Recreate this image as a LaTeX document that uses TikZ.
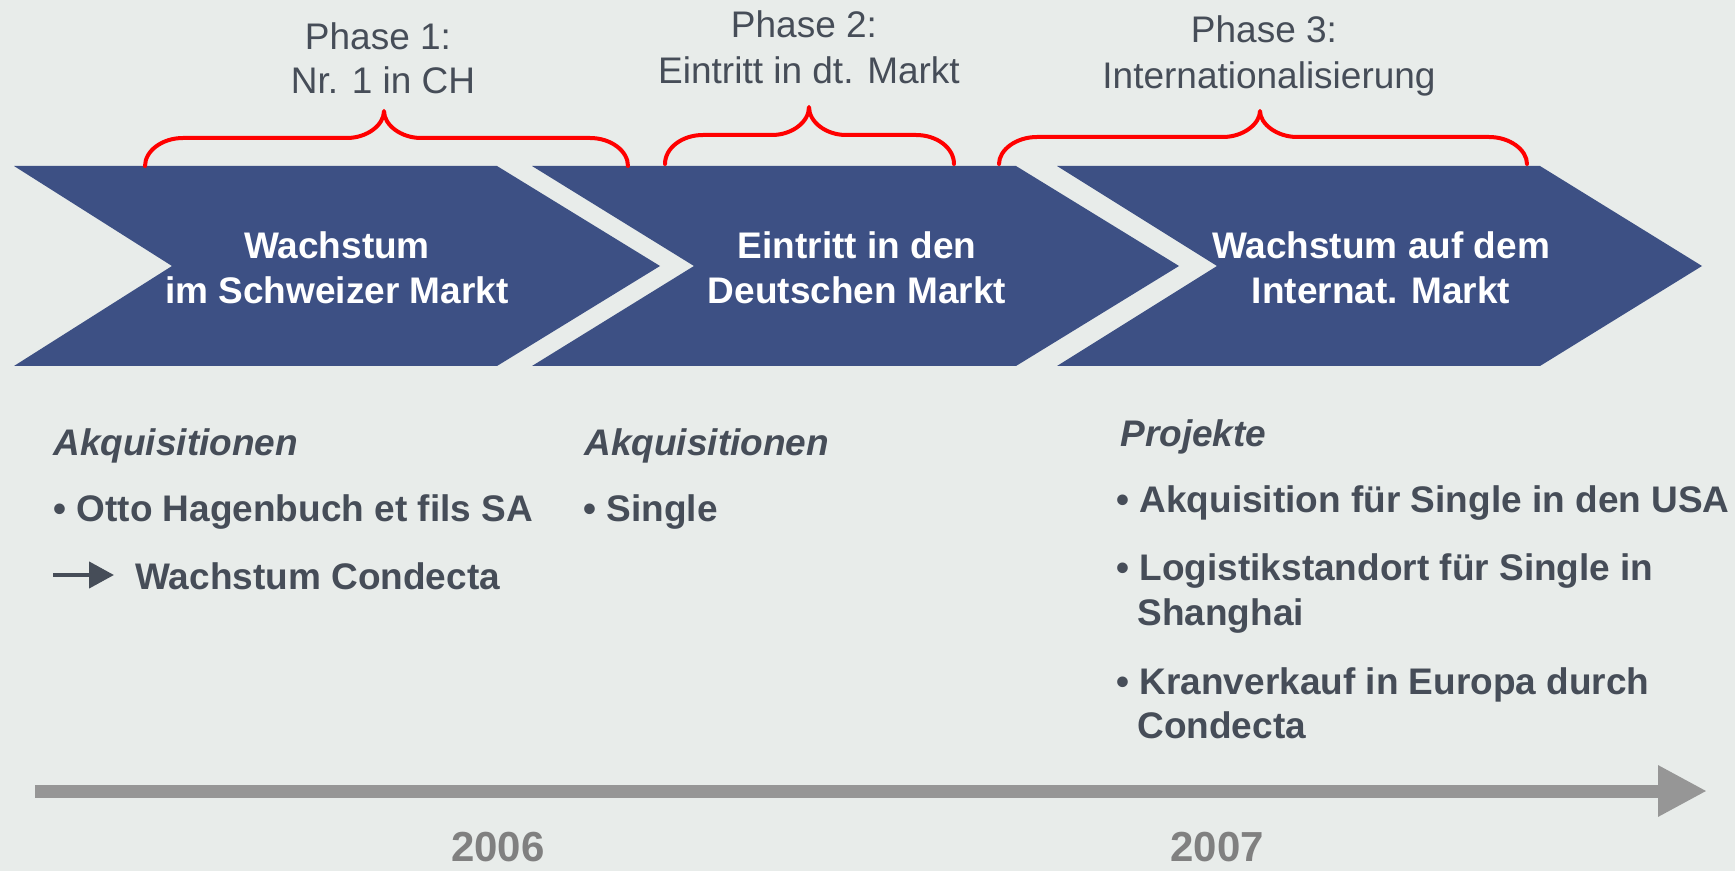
\documentclass[tikz,border=0pt]{standalone}
\usepackage{fontspec}
\setmainfont{Liberation Sans}
\usetikzlibrary{arrows.meta}
\definecolor{bg}{HTML}{E8ECEA}
\definecolor{chev}{HTML}{3D5084}
\definecolor{txt}{HTML}{464D58}
\definecolor{tl}{HTML}{969696}
\definecolor{yr}{HTML}{808080}
\definecolor{brc}{HTML}{FF0000}
\newcommand\mybrace[6]{%
  \draw[brace] (#1,#4) .. controls (#1,#5+13) and (#1+17,#5) .. (#1+38,#5)
    -- (#3-37,#5) .. controls (#3-17,#5) and (#3,#5-13) .. (#3,#6)
    .. controls (#3,#5-13) and (#3+17,#5) .. (#3+37,#5)
    -- (#2-38,#5) .. controls (#2-17,#5) and (#2,#5+13) .. (#2,#4);}
\begin{document}
\begin{tikzpicture}[x=0.5pt,y=-0.5pt,
  chevtext/.style={text=white, font=\fontsize{18.5}{22.5}\selectfont\bfseries, align=center, inner sep=0},
  phase/.style={text=txt, font=\fontsize{18.5}{22}\selectfont, anchor=base, inner sep=0},
  headtext/.style={text=txt, font=\fontsize{18.5}{22}\selectfont\bfseries\itshape, anchor=base west, inner sep=0},
  itemtext/.style={text=txt, font=\fontsize{18.5}{22}\selectfont\bfseries, anchor=base west, inner sep=0},
  yeartext/.style={text=yr, font=\fontsize{21}{25}\selectfont\bfseries, anchor=base, inner sep=0},
  brace/.style={draw=brc, line width=2pt, line cap=round, line join=round},
  chevfill/.style={fill=chev},
]
\fill[bg] (0,0) rectangle (1735,871);
\useasboundingbox (0,0) rectangle (1735,871);

% chevrons
\fill[chevfill] (14,166) -- (497,166) -- (660,266) -- (497,366) -- (14,366) -- (172,266) -- cycle;
\fill[chevfill] (532,166) -- (1016,166) -- (1179,266) -- (1016,366) -- (532,366) -- (694,266) -- cycle;
\fill[chevfill] (1057,166) -- (1540,166) -- (1702,266) -- (1540,366) -- (1057,366) -- (1217,266) -- cycle;

\node[chevtext] (c1) at (337,268) {Wachstum\\im Schweizer Markt};
\node[chevtext] (c2) at (857,268) {Eintritt in den\\Deutschen Markt};
\node[chevtext] (c3) at (1381,268) {Wachstum auf dem\\Internat. Markt};

% braces
\mybrace{145}{628}{384}{166}{138}{111}
\mybrace{665}{954}{809}{164}{135}{107}
\mybrace{999}{1527}{1260}{164}{137}{111}

% phase labels
\node[phase] (p1a) at (378,50) {Phase 1:};
\node[phase] (p1b) at (383,94) {Nr. 1 in CH};
\node[phase] (p2a) at (804,38) {Phase 2:};
\node[phase] (p2b) at (809,84) {Eintritt in dt. Markt};
\node[phase] (p3a) at (1264,43) {Phase 3:};
\node[phase] (p3b) at (1269,89) {Internationalisierung};

% lists
\node[headtext] (h1) at (53,456) {Akquisitionen};
\node[itemtext] (i1) at (53,522) {• Otto Hagenbuch et fils SA};
\coordinate (a0) at (53,575);
\coordinate (a1) at (114,575);
\draw[txt, line width=2.2pt, -{Triangle[length=12.5pt,width=13pt]}] (a0) -- (a1);
\node[itemtext] (i2) at (135,589) {Wachstum Condecta};

\node[headtext] (h2) at (584,456) {Akquisitionen};
\node[itemtext] (i3) at (583,522) {• Single};

\node[headtext] (h3) at (1120,447) {Projekte};
\node[itemtext] (i4) at (1116,513) {• Akquisition für Single in den USA};
\node[itemtext] (i5) at (1116,581) {• Logistikstandort für Single in};
\node[itemtext] (i5b) at (1137,625) {Shanghai};
\node[itemtext] (i6) at (1116,694) {• Kranverkauf in Europa durch};
\node[itemtext] (i6b) at (1137,738) {Condecta};

% timeline
\coordinate (t0) at (35,791);
\coordinate (t1) at (1707,791);
\draw[tl, line width=6.5pt, -{Triangle[length=24.5pt,width=24pt]}] (t0) -- (t1);
\node[yeartext] (y1) at (498,861) {2006};
\node[yeartext] (y2) at (1217,861) {2007};
\end{tikzpicture}
\end{document}
